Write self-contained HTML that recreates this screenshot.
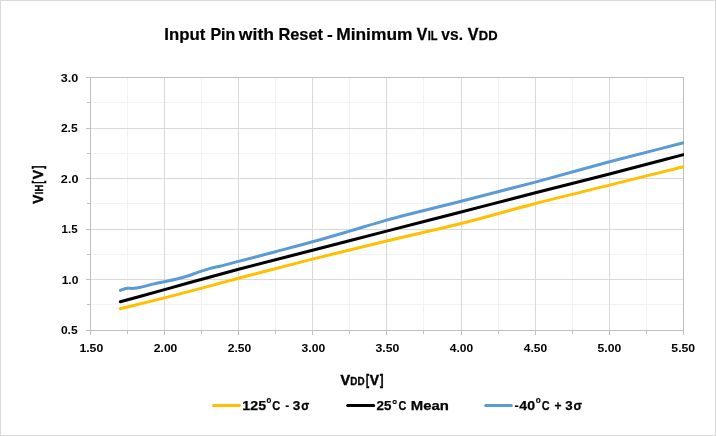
<!DOCTYPE html>
<html lang="en"><head><meta charset="utf-8"><title>Input Pin with Reset - Minimum VIL vs. VDD</title>
<style>html,body{margin:0;padding:0;background:#fff;}svg{display:block;}text{font-family:"Liberation Sans",sans-serif;font-weight:bold;fill:#000;}</style></head><body>
<svg width="716" height="436" viewBox="0 0 716 436">
<rect x="0" y="0" width="716" height="436" fill="#fff"/>
<rect x="0.5" y="0.5" width="715" height="435" fill="none" stroke="#d9d9d9" stroke-width="1"/>
<g fill="none" stroke-width="1" shape-rendering="crispEdges">
<path stroke="#f2f2f2" d="M127.5 78V330M201.5 78V330M275.5 78V330M349.5 78V330M423.5 78V330M498.5 78V330M572.5 78V330M646.5 78V330M91 102.5H683M91 153.5H683M91 203.5H683M91 254.5H683M91 304.5H683"/>
<path stroke="#d9d9d9" d="M164.5 78V330M238.5 78V330M312.5 78V330M386.5 78V330M461.5 78V330M535.5 78V330M609.5 78V330M91 128.5H683M91 178.5H683M91 229.5H683M91 279.5H683"/>
<path stroke="#bfbfbf" d="M90.5 77.5H683.5V330.5H90.5Z"/>
<path stroke="#bfbfbf" d="M90.5 331V335M164.5 331V335M238.5 331V335M312.5 331V335M386.5 331V335M461.5 331V335M535.5 331V335M609.5 331V335M683.5 331V335M127.5 331V334M201.5 331V334M275.5 331V334M349.5 331V334M423.5 331V334M498.5 331V334M572.5 331V334M646.5 331V334M86 77.5H90M86 128.5H90M86 178.5H90M86 229.5H90M86 279.5H90M86 330.5H90M87 102.5H90M87 153.5H90M87 203.5H90M87 254.5H90M87 304.5H90"/>
</g>
<clipPath id="pc"><rect x="85.5" y="77.5" width="598.5" height="253.0"/></clipPath>
<g fill="none" stroke-width="3" stroke-linecap="round" stroke-linejoin="round" clip-path="url(#pc)">
<path stroke="#ffc000" d="M120.30 308.70C135.03 305.10 149.77 301.61 164.50 297.90C189.20 291.68 213.90 284.78 238.60 278.30C263.23 271.84 287.87 265.31 312.50 259.10C337.20 252.87 361.90 246.92 386.60 241.00C411.43 235.05 436.27 229.76 461.10 223.50C485.87 217.26 510.63 209.91 535.40 203.50C560.10 197.11 584.80 191.24 609.50 185.10C634.17 178.97 658.83 172.83 683.50 166.70"/>
<path stroke="#000000" d="M120.30 301.80C135.03 297.73 149.77 293.66 164.50 289.60C189.20 282.79 213.90 275.76 238.60 269.20C263.23 262.66 287.87 256.64 312.50 250.30C337.20 243.94 361.90 237.47 386.60 231.10C411.43 224.70 436.27 218.39 461.10 212.00C485.87 205.63 510.63 199.14 535.40 192.80C560.10 186.48 584.80 180.36 609.50 174.00C634.17 167.65 658.83 161.10 683.50 154.65"/>
<path stroke="#5b9bd5" d="M120.40 290.40C121.60 289.93 122.80 289.37 124.00 289.00C125.17 288.64 126.33 288.33 127.50 288.20C129.00 288.04 130.50 288.42 132.00 288.40C133.43 288.38 134.87 288.29 136.30 288.10C138.20 287.85 140.10 287.32 142.00 286.90C146.00 286.01 150.00 284.81 154.00 283.90C157.50 283.10 161.00 282.45 164.50 281.70C168.60 280.82 172.70 280.02 176.80 279.00C180.97 277.96 185.13 276.84 189.30 275.50C193.37 274.20 197.43 272.44 201.50 271.10C204.43 270.13 207.37 269.19 210.30 268.40C213.53 267.53 216.77 266.97 220.00 266.20C226.20 264.73 232.40 263.01 238.60 261.40C250.90 258.21 263.20 254.96 275.50 251.70C287.83 248.43 300.17 245.23 312.50 241.80C324.87 238.36 337.23 234.72 349.60 231.10C361.93 227.49 374.27 223.59 386.60 220.10C411.43 213.08 436.27 207.54 461.10 201.20C485.87 194.88 510.63 188.68 535.40 182.10C560.10 175.54 584.80 168.35 609.50 161.80C634.17 155.25 658.83 149.13 683.50 142.80"/>
</g>
<g id="labels">
<text x="164.33" y="40" font-size="16.9" textLength="40.98" lengthAdjust="spacingAndGlyphs" stroke="#000" stroke-width="0.2">Input</text>
<text x="210.42" y="40" font-size="16.9" textLength="24.88" lengthAdjust="spacingAndGlyphs" stroke="#000" stroke-width="0.2">Pin</text>
<text x="238.87" y="40" font-size="16.9" textLength="35.13" lengthAdjust="spacingAndGlyphs" stroke="#000" stroke-width="0.2">with</text>
<text x="278.41" y="40" font-size="16.9" textLength="44.62" lengthAdjust="spacingAndGlyphs" stroke="#000" stroke-width="0.2">Reset</text>
<text x="327.06" y="40" font-size="16.9" textLength="5.75" lengthAdjust="spacingAndGlyphs" stroke="#000" stroke-width="0.2">-</text>
<text x="336.17" y="40" font-size="16.9" textLength="76.38" lengthAdjust="spacingAndGlyphs" stroke="#000" stroke-width="0.2">Minimum</text>
<text x="416.85" y="40" font-size="16.9" textLength="10.55" lengthAdjust="spacingAndGlyphs" stroke="#000" stroke-width="0.35">V</text>
<text x="427.78" y="40" font-size="12.6" textLength="9.85" lengthAdjust="spacingAndGlyphs" stroke="#000" stroke-width="0.3">IL</text>
<text x="441.33" y="40" font-size="16.9" textLength="21.66" lengthAdjust="spacingAndGlyphs" stroke="#000" stroke-width="0.2">vs.</text>
<text x="467.63" y="40" font-size="16.9" textLength="10.74" lengthAdjust="spacingAndGlyphs" stroke="#000" stroke-width="0.35">V</text>
<text x="478.76" y="40" font-size="12.6" textLength="18.77" lengthAdjust="spacingAndGlyphs" stroke="#000" stroke-width="0.3">DD</text>
<text x="340.47" y="385" font-size="14.2" textLength="9.61" lengthAdjust="spacingAndGlyphs" stroke="#000" stroke-width="0.45">V</text>
<text x="350.36" y="385" font-size="10.6" textLength="14.22" lengthAdjust="spacingAndGlyphs" stroke="#000" stroke-width="0.3">DD</text>
<text x="366.07" y="385" font-size="14.2" textLength="3.10" lengthAdjust="spacingAndGlyphs" stroke="#000" stroke-width="0.6">[</text>
<text x="369.78" y="385" font-size="14.2" textLength="9.26" lengthAdjust="spacingAndGlyphs" stroke="#000" stroke-width="0.45">V</text>
<text x="380.12" y="385" font-size="14.2" textLength="3.41" lengthAdjust="spacingAndGlyphs" stroke="#000" stroke-width="0.6">]</text>
<text x="242.38" y="410" font-size="13.5" textLength="23.69" lengthAdjust="spacingAndGlyphs" stroke="#000" stroke-width="0.25">125</text>
<text x="266.55" y="403" font-size="9.8" textLength="4.81" lengthAdjust="spacingAndGlyphs" stroke="#000" stroke-width="0.2">o</text>
<text x="272.36" y="410" font-size="13.5" textLength="7.97" lengthAdjust="spacingAndGlyphs" stroke="#000" stroke-width="0.25">C</text>
<text x="285.25" y="410" font-size="13.5" textLength="3.93" lengthAdjust="spacingAndGlyphs" stroke="#000" stroke-width="0.15">-</text>
<text x="292.89" y="410" font-size="13.5" textLength="7.56" lengthAdjust="spacingAndGlyphs" stroke="#000" stroke-width="0.25">3</text>
<text x="301.37" y="410" font-size="13.5" textLength="8.01" lengthAdjust="spacingAndGlyphs" stroke="#000" stroke-width="0.3">σ</text>
<text x="376.52" y="410" font-size="13.5" textLength="14.85" lengthAdjust="spacingAndGlyphs" stroke="#000" stroke-width="0.25">25</text>
<text x="392.09" y="409" font-size="13.5" textLength="5.34" lengthAdjust="spacingAndGlyphs" stroke="#000" stroke-width="0.2">°</text>
<text x="398.49" y="410" font-size="13.5" textLength="7.88" lengthAdjust="spacingAndGlyphs" stroke="#000" stroke-width="0.25">C</text>
<text x="410.80" y="410" font-size="13.5" textLength="38.01" lengthAdjust="spacingAndGlyphs" stroke="#000" stroke-width="0.25">Mean</text>
<text x="514.52" y="410" font-size="13.5" textLength="4.21" lengthAdjust="spacingAndGlyphs" stroke="#000" stroke-width="0.15">-</text>
<text x="519.30" y="410" font-size="13.5" textLength="15.74" lengthAdjust="spacingAndGlyphs" stroke="#000" stroke-width="0.25">40</text>
<text x="535.83" y="403" font-size="9.8" textLength="4.97" lengthAdjust="spacingAndGlyphs" stroke="#000" stroke-width="0.2">o</text>
<text x="541.67" y="410" font-size="13.5" textLength="7.87" lengthAdjust="spacingAndGlyphs" stroke="#000" stroke-width="0.25">C</text>
<text x="554.42" y="410" font-size="13.5" textLength="7.00" lengthAdjust="spacingAndGlyphs" stroke="#000" stroke-width="0.3">+</text>
<text x="565.33" y="410" font-size="13.5" textLength="7.40" lengthAdjust="spacingAndGlyphs" stroke="#000" stroke-width="0.25">3</text>
<text x="573.48" y="410" font-size="13.5" textLength="8.52" lengthAdjust="spacingAndGlyphs" stroke="#000" stroke-width="0.3">σ</text>
<text x="60.79" y="82" font-size="11.8" textLength="17.49" lengthAdjust="spacingAndGlyphs">3.0</text>
<text x="60.91" y="132" font-size="11.8" textLength="16.78" lengthAdjust="spacingAndGlyphs">2.5</text>
<text x="60.88" y="183" font-size="11.8" textLength="17.58" lengthAdjust="spacingAndGlyphs">2.0</text>
<text x="61.61" y="233" font-size="11.8" textLength="16.04" lengthAdjust="spacingAndGlyphs">1.5</text>
<text x="61.66" y="284" font-size="11.8" textLength="16.74" lengthAdjust="spacingAndGlyphs">1.0</text>
<text x="60.91" y="334" font-size="11.8" textLength="16.77" lengthAdjust="spacingAndGlyphs">0.5</text>
<text x="79.45" y="352" font-size="11.8" textLength="23.78" lengthAdjust="spacingAndGlyphs">1.50</text>
<text x="153.80" y="352" font-size="11.8" textLength="23.55" lengthAdjust="spacingAndGlyphs">2.00</text>
<text x="227.68" y="352" font-size="11.8" textLength="23.55" lengthAdjust="spacingAndGlyphs">2.50</text>
<text x="301.62" y="352" font-size="11.8" textLength="23.57" lengthAdjust="spacingAndGlyphs">3.00</text>
<text x="375.44" y="352" font-size="11.8" textLength="23.84" lengthAdjust="spacingAndGlyphs">3.50</text>
<text x="449.82" y="352" font-size="11.8" textLength="23.38" lengthAdjust="spacingAndGlyphs">4.00</text>
<text x="523.83" y="352" font-size="11.8" textLength="23.32" lengthAdjust="spacingAndGlyphs">4.50</text>
<text x="597.54" y="352" font-size="11.8" textLength="23.62" lengthAdjust="spacingAndGlyphs">5.00</text>
<text x="671.35" y="352" font-size="11.8" textLength="23.78" lengthAdjust="spacingAndGlyphs">5.50</text>
<text transform="translate(43 203.66) rotate(-90)" font-size="14.2" textLength="9.09" lengthAdjust="spacingAndGlyphs" stroke="#000" stroke-width="0.45">V</text>
<text transform="translate(43 194.15) rotate(-90)" font-size="10.2" textLength="9.15" lengthAdjust="spacingAndGlyphs" stroke="#000" stroke-width="0.3">IH</text>
<text transform="translate(43 183.52) rotate(-90)" font-size="14.2" textLength="2.58" lengthAdjust="spacingAndGlyphs" stroke="#000" stroke-width="0.6">[</text>
<text transform="translate(43 179.31) rotate(-90)" font-size="14.2" textLength="9.31" lengthAdjust="spacingAndGlyphs" stroke="#000" stroke-width="0.45">V</text>
<text transform="translate(43 168.70) rotate(-90)" font-size="14.2" textLength="3.00" lengthAdjust="spacingAndGlyphs" stroke="#000" stroke-width="0.6">]</text>
</g>
<g fill="none" stroke-width="3" stroke-linecap="round">
<line x1="213.5" y1="405.5" x2="239.5" y2="405.5" stroke="#ffc000"/>
<line x1="347.7" y1="405.5" x2="373.7" y2="405.5" stroke="#000"/>
<line x1="485.7" y1="405.5" x2="511.3" y2="405.5" stroke="#5b9bd5"/>
</g>
</svg>
</body></html>
